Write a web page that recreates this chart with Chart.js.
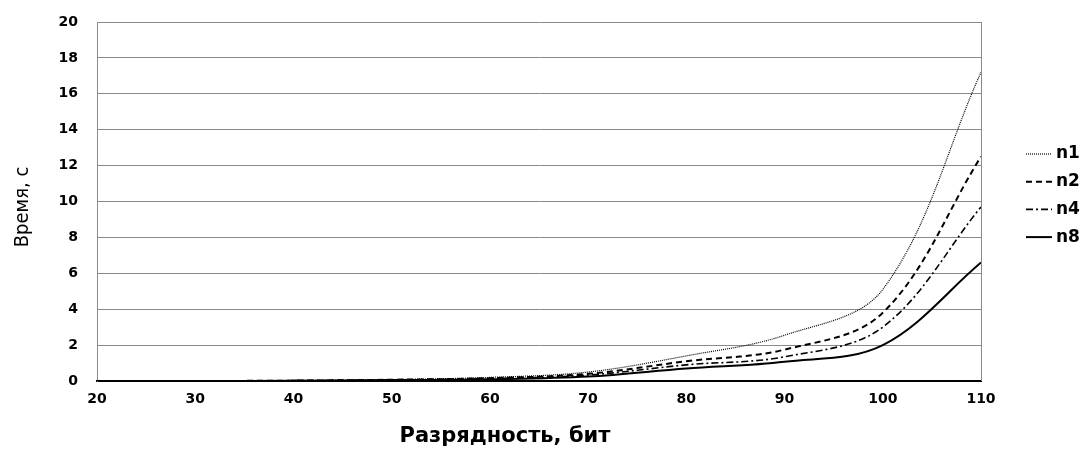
<!DOCTYPE html>
<html>
<head>
<meta charset="utf-8">
<script src="https://cdn.jsdelivr.net/npm/chart.js@4"></script>
<style>
  html, body { margin: 0; padding: 0; background: #fff; }
  #box { width: 1092px; height: 450px; }
</style>
</head>
<body>
<div id="box"><canvas id="timeChart"></canvas></div>
<script>
// bit width and run time (s) for each thread count
var bits = [20, 30, 40, 50, 60, 70, 80, 90, 100, 110];
var n1 = [0, 0, 0.03, 0.08, 0.2, 0.5, 1.4, 2.55, 5.1, 17.2];
var n2 = [0, 0, 0.02, 0.07, 0.16, 0.4, 1.1, 1.75, 3.8, 12.5];
var n4 = [0, 0, 0.02, 0.06, 0.13, 0.33, 0.9, 1.35, 3.0, 9.7];
var n8 = [0, 0, 0.01, 0.05, 0.1, 0.25, 0.7, 1.07, 2.0, 6.6];
var yTicks = [0, 2, 4, 6, 8, 10, 12, 14, 16, 18, 20];
var xTitle = 'Разрядность, бит';
var yTitle = 'Время, с';

function pts(arr) {
	return bits.map(function (b, i) { return { x: b, y: arr[i] }; });
}

var seriesStyle = [
	{ label: 'n1', data: n1, width: 1.2, dash: [1, 1] },
	{ label: 'n2', data: n2, width: 2, dash: [6, 4] },
	{ label: 'n4', data: n4, width: 1.6, dash: [7, 3, 2, 3] },
	{ label: 'n8', data: n8, width: 2, dash: [] }
];

/* axis titles, legend on the right, right edge of the plot frame */
var sideLegend = {
	id: 'sideLegend',
	afterDraw: function (chart) {
		var ctx = chart.ctx;
		var a = chart.chartArea;
		ctx.save();
		ctx.strokeStyle = '#8a8a8a';
		ctx.lineWidth = 1;
		ctx.beginPath();
		ctx.moveTo(a.right + 0.5, a.top);
		ctx.lineTo(a.right + 0.5, a.bottom);
		ctx.stroke();

		ctx.fillStyle = '#000';
		ctx.textAlign = 'center';
		ctx.textBaseline = 'middle';
		ctx.font = 'bold 21px "DejaVu Sans"';
		ctx.fillText(xTitle, 505, 437);

		ctx.save();
		ctx.translate(23, 207);
		ctx.rotate(-Math.PI / 2);
		ctx.font = '20px "Liberation Sans Narrow", "DejaVu Sans Condensed", Roboto, sans-serif';
		ctx.fillText(yTitle, 0, 0);
		ctx.restore();

		ctx.textAlign = 'left';
		ctx.font = 'bold 17px "DejaVu Sans"';
		seriesStyle.forEach(function (s, i) {
			var y = 154 + i * 27.7;
			ctx.strokeStyle = '#000';
			ctx.lineWidth = s.width;
			ctx.setLineDash(s.dash);
			ctx.beginPath();
			ctx.moveTo(1026, y);
			ctx.lineTo(1052, y);
			ctx.stroke();
			ctx.setLineDash([]);
			ctx.fillText(s.label, 1056, y);
		});
		ctx.restore();
	}
};

var ctx = document.getElementById('timeChart').getContext('2d');
var myChart = new Chart(ctx, {
	type: 'line',
	data: {
		datasets: seriesStyle.map(function (s) {
			return {
				label: s.label,
				data: pts(s.data),
				borderColor: '#000',
				borderWidth: s.width,
				borderDash: s.dash,
				pointRadius: 0,
				fill: false,
				tension: 0.35
			};
		})
	},
	options: {
		responsive: true,
		maintainAspectRatio: false,
		animation: false,
		layout: {
			padding: { left: 0, right: 111, top: 22, bottom: 0 }
		},
		scales: {
			x: {
				type: 'linear',
				min: 20,
				max: 110,
				afterFit: function (scale) {
					scale.height = 69;
					scale.paddingLeft = 0;
					scale.paddingRight = 0;
				},
				afterBuildTicks: function (scale) {
					scale.ticks = bits.map(function (b) { return { value: b }; });
				},
				grid: { display: false, drawTicks: false },
				border: { display: true, color: '#000', width: 2 },
				ticks: {
					padding: 10,
					color: '#000',
					font: { family: 'DejaVu Sans', size: 14, weight: 'bold' }
				}
			},
			y: {
				min: 0,
				max: 20,
				afterFit: function (scale) {
					scale.width = 97;
					scale.paddingTop = 0;
					scale.paddingBottom = 0;
				},
				afterBuildTicks: function (scale) {
					scale.ticks = yTicks.map(function (v) { return { value: v }; });
				},
				grid: { color: '#8a8a8a', drawTicks: false },
				border: { display: true, color: '#8a8a8a' },
				ticks: {
					padding: 19,
					color: '#000',
					font: { family: 'DejaVu Sans', size: 14, weight: 'bold' }
				}
			}
		},
		plugins: {
			legend: { display: false },
			tooltip: { enabled: false }
		}
	},
	plugins: [sideLegend]
});
</script>
</body>
</html>
